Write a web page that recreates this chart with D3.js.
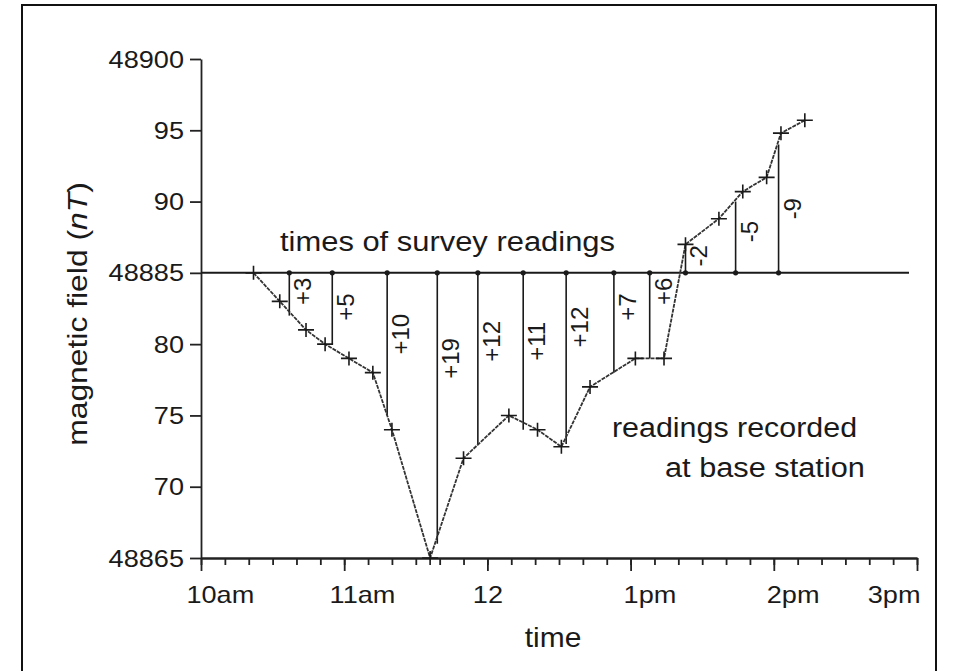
<!DOCTYPE html>
<html>
<head>
<meta charset="utf-8">
<script src="https://cdn.jsdelivr.net/npm/d3@7"></script>
<style>
  body { margin: 0; background: #fff; }
  text { font-family: "Liberation Sans", Arial, sans-serif; fill: #1a1a1a; }
</style>
</head>
<body>
<div id="chart"></div>
<script>
// Base station readings (clock time, field in nT)
var baseTimes = ["10:22", "10:33", "10:44", "10:52", "11:02", "11:12", "11:20", "11:36", "11:50",
  "12:09", "12:21", "12:31", "12:43", "13:02", "13:14", "13:23", "13:37", "13:47", "13:57", "14:03", "14:13"];
var baseValues = [48885, 48883, 48881, 48880, 48879, 48878, 48874, 48865, 48872,
  48875, 48874, 48872.8, 48877, 48879, 48879, 48887, 48888.8, 48890.7, 48891.7, 48894.8, 48895.7];

// Times of survey readings and the diurnal correction applied to each
var surveyTimes = ["10:37", "10:55", "11:18", "11:39", "11:56", "12:15", "12:33", "12:53", "13:08", "13:23", "13:44", "14:02"];
var corrections = [3, 5, 10, 19, 12, 11, 12, 7, 6, -2, -5, -9];

// Axis ticks
var yTickValues = [48865, 48870, 48875, 48880, 48885, 48890, 48895, 48900];
var yTickLabels = ["48865", "70", "75", "80", "48885", "90", "95", "48900"];
var xTickTimes = ["10:00", "11:00", "12:00", "13:00", "14:00", "15:00"];
var xTickNums = ["10", "11", "12", "1", "2", "3"];
var xTickSuffix = ["am", "am", "", "pm", "pm", "pm"];

var reference = 48885;

var svgWidth = 953;
var svgHeight = 671;
var margin = { top: 59, right: 36, bottom: 113, left: 201 };

var parseTime = d3.timeParse("%H:%M");

var svg = d3.select("#chart")
  .append("svg")
  .attr("width", svgWidth)
  .attr("height", svgHeight);

// outer frame
svg.append("rect")
  .attr("x", 22).attr("y", 5)
  .attr("width", 914).attr("height", 700)
  .attr("fill", "none")
  .attr("stroke", "#111")
  .attr("stroke-width", 2);

var xScale = d3.scaleTime()
  .domain([parseTime("10:00"), parseTime("15:00")])
  .range([margin.left, svgWidth - margin.right]);

var yScale = d3.scaleLinear()
  .domain([48865, 48900])
  .range([svgHeight - margin.bottom, margin.top]);

// stretched text helper (the source font is set wider than Arial)
function placeText(g, x, y, str, size, sx, rotate) {
  var t = g.append("text")
    .attr("transform", "translate(" + x + "," + y + ")" + (rotate ? " rotate(" + rotate + ")" : "") + " scale(" + sx + ",1)")
    .attr("text-anchor", "start")
    .style("font-size", size + "px")
    .text(str);
  return t;
}

// y axis
var leftAxis = d3.axisLeft(yScale)
  .tickValues(yTickValues)
  .tickFormat(function(d, i) { return yTickLabels[i]; })
  .tickSize(11)
  .tickSizeOuter(0);

var yAxisG = svg.append("g")
  .attr("transform", "translate(" + margin.left + ",0)")
  .call(leftAxis);
yAxisG.selectAll("text").remove();
yAxisG.selectAll(".tick").each(function(d, i) {
  placeText(d3.select(this), -17, 8, yTickLabels[i], 24, 1.13).attr("text-anchor", "end");
});

// x axis: minor ticks every 10 min, then major hour ticks
var axisY = yScale(48865);
var minorAxis = d3.axisBottom(xScale)
  .ticks(d3.timeMinute.every(10))
  .tickSize(7)
  .tickSizeOuter(0)
  .tickFormat("");
svg.append("g")
  .attr("transform", "translate(0," + axisY + ")")
  .call(minorAxis);

var majorAxis = d3.axisBottom(xScale)
  .tickValues(xTickTimes.map(parseTime))
  .tickSize(13)
  .tickSizeOuter(0)
  .tickFormat("");
var xAxisG = svg.append("g")
  .attr("transform", "translate(0," + axisY + ")")
  .call(majorAxis);

svg.selectAll(".domain, .tick line")
  .attr("stroke", "#222")
  .attr("stroke-width", 1.8);

// x tick labels: hour number centred on the tick, kept inside the axis end
xAxisG.selectAll(".tick").each(function(d, i) {
  var g = d3.select(this);
  var t = placeText(g, 0, 45, xTickNums[i] + xTickSuffix[i], 24, 1.13);
  var numW = xTickNums[i].length * 0.556 * 24 * 1.13;
  var fullW = t.node().getComputedTextLength() * 1.13;
  var x0 = -numW / 2;
  var tickX = xScale(d);
  if (tickX + x0 + fullW > svgWidth - margin.right + 4) x0 = -fullW + 3;
  t.attr("transform", "translate(" + x0 + ",45) scale(1.13,1)");
});

// axis titles
placeText(svg, (margin.left + svgWidth - margin.right) / 2 - 6, 647, "time", 27, 1.11)
  .attr("text-anchor", "middle");
placeText(svg, 87, 314, "", 27, 1.18, -90)
  .attr("text-anchor", "middle")
  .call(function(t) {
    t.append("tspan").text("magnetic field (");
    t.append("tspan").style("font-style", "italic").text("nT");
    t.append("tspan").text(")");
  });

// reference line at 48885
svg.append("line")
  .attr("x1", margin.left)
  .attr("x2", 909)
  .attr("y1", yScale(reference))
  .attr("y2", yScale(reference))
  .attr("stroke", "#1a1a1a")
  .attr("stroke-width", 2);

// survey reading verticals
var survey = surveyTimes.map(function(t, i) {
  return { time: parseTime(t), corr: corrections[i] };
});

svg.selectAll(".survey")
  .data(survey)
  .enter()
  .append("line")
  .attr("x1", d => xScale(d.time))
  .attr("x2", d => xScale(d.time))
  .attr("y1", yScale(reference))
  .attr("y2", d => yScale(reference - d.corr))
  .attr("stroke", "#1a1a1a")
  .attr("stroke-width", 1.6);

svg.selectAll(".dot")
  .data(survey)
  .enter()
  .append("circle")
  .attr("cx", d => xScale(d.time))
  .attr("cy", yScale(reference))
  .attr("r", 2.6)
  .attr("fill", "#1a1a1a");

// correction labels, rotated, beside each vertical (depth below the line in nT)
var labelDepth = [1.3, 2.4, 4.3, 6.0, 4.8, 4.8, 3.8, 2.4, 1.3, -1.2, -2.9, -4.5];
survey.forEach(function(d, i) {
  var txt = (d.corr > 0 ? "+" : "") + d.corr;
  placeText(svg, xScale(d.time) + 22, yScale(reference - labelDepth[i]), txt, 24, 1.0, -90)
    .attr("text-anchor", "middle");
});

// base station curve
var base = baseTimes.map(function(t, i) {
  return { time: parseTime(t), value: baseValues[i] };
});

var line = d3.line()
  .x(d => xScale(d.time))
  .y(d => yScale(d.value));

svg.append("path")
  .datum(base)
  .attr("d", line)
  .attr("fill", "none")
  .attr("stroke", "#333")
  .attr("stroke-width", 1.8)
  .attr("stroke-dasharray", "4,1");

// cross markers
svg.selectAll(".cross")
  .data(base)
  .enter()
  .append("path")
  .attr("d", function(d) {
    var cx = xScale(d.time), cy = yScale(d.value);
    return "M" + (cx - 8) + "," + cy + "H" + (cx + 8) + "M" + cx + "," + (cy - 7) + "V" + (cy + 7);
  })
  .attr("stroke", "#1a1a1a")
  .attr("stroke-width", 1.6)
  .attr("fill", "none");

// annotations
placeText(svg, 280, 251, "times of survey readings", 27, 1.145);
placeText(svg, 612, 437, "readings recorded", 27, 1.126);
placeText(svg, 665, 477, "at base station", 27, 1.139);
</script>
</body>
</html>
